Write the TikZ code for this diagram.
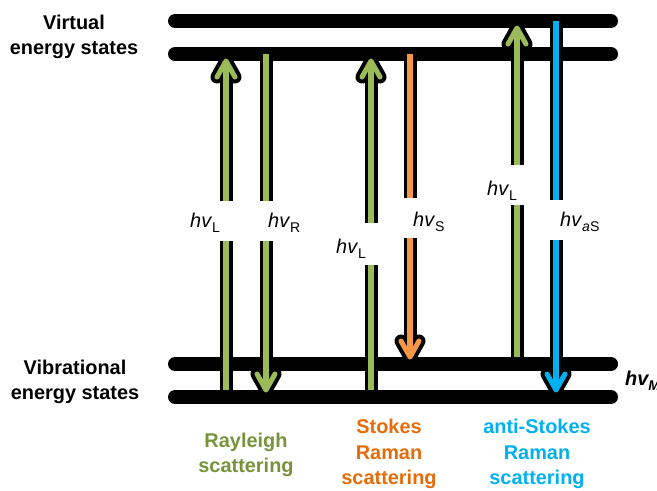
\documentclass[tikz,border=0pt]{standalone}
\usepackage{fontspec}
\setmainfont{Liberation Sans}
\usepackage{tikz}
\definecolor{ray_green}{RGB}{155,187,89}
\definecolor{ray_text}{RGB}{119,147,60}
\definecolor{stokes_orange}{RGB}{247,150,70}
\definecolor{stokes_text}{RGB}{228,108,10}
\definecolor{astokes_blue}{RGB}{0,176,240}
\newcommand{\hvsub}[1]{\textit{hv}\raisebox{-0.55ex}{\fontsize{12}{12}\selectfont #1}}
\newcommand{\photon}[6]{% #1 = x, #2 = Start, #3 = Spitze, #4/#5 = Luecke, #6 = Farbe
  \pgfmathsetmacro{\phdir}{(#3 > #2) ? 1 : -1}
  \pgfmathsetmacro{\phback}{#3-16*\phdir}
  \draw[outline] (#1,#2) -- (#1,#4) (#1,#5) -- (#1,#3);
  \draw[outline, line cap=round] (#1-9,\phback) -- (#1,#3) -- (#1+9,\phback);
  \draw[core, #6] (#1,#2) -- (#1,#4) (#1,#5) -- (#1,#3);
  \draw[core, #6, line cap=round] (#1-9,\phback) -- (#1,#3) -- (#1+9,\phback);
}

\begin{document}
\begin{tikzpicture}[x=0.03cm, y=-0.03cm,
    level/.style={line width=11.95pt, line cap=round},
    outline/.style={black, line width=11.1pt, line join=round},
    core/.style={line width=4.3pt, line join=round},
    heading/.style={font=\bfseries\fontsize{17}{21.5}\selectfont, align=center, inner sep=0pt},
    hvlabel/.style={font=\fontsize{17}{20}\selectfont, anchor=base west, inner sep=0pt}]
  \useasboundingbox (0,0) rectangle (657,490);
  % Energieniveaus
  \foreach \y in {21,54,364,397}
    \draw[level] (175,\y) -- (611,\y);
  % Photonen
  \photon{226}{390}{61}{241}{201}{ray_green}
  \photon{266}{54}{390}{201}{241}{ray_green}
  \photon{371}{390}{61}{265}{223}{ray_green}
  \photon{410}{54}{357}{198}{238}{stokes_orange}
  \photon{517}{357}{28}{205}{165}{ray_green}
  \photon{556}{21}{390}{200}{240}{astokes_blue}
  % Beschriftungen
  \node[hvlabel] (rayL) at (190,227) {\hvsub{L}};
  \node[hvlabel] (rayR) at (268,227) {\hvsub{R}};
  \node[hvlabel] (stoL) at (336,253) {\hvsub{L}};
  \node[hvlabel] (stoS) at (413,226) {\hvsub{S}};
  \node[hvlabel] (astL) at (487,195) {\hvsub{L}};
  \node[hvlabel] (astS) at (560,226) {\hvsub{\textit{a}S}};
  \node[hvlabel, font=\bfseries\itshape\fontsize{17}{20}\selectfont] (vibM) at (625,385) {\hvsub{M}};
  \node[heading] (virt) at (74,37) {Virtual\\energy states};
  \node[heading] (vibr) at (75,382) {Vibrational\\energy states};
  \node[heading, text=ray_text] (rayl) at (246,455) {Rayleigh\\scattering};
  \node[heading, text=stokes_text] (stok) at (389,454) {Stokes\\Raman\\scattering};
  \node[heading, text=astokes_blue] (asto) at (537,454) {anti-Stokes\\Raman\\scattering};
\end{tikzpicture}
\end{document}
